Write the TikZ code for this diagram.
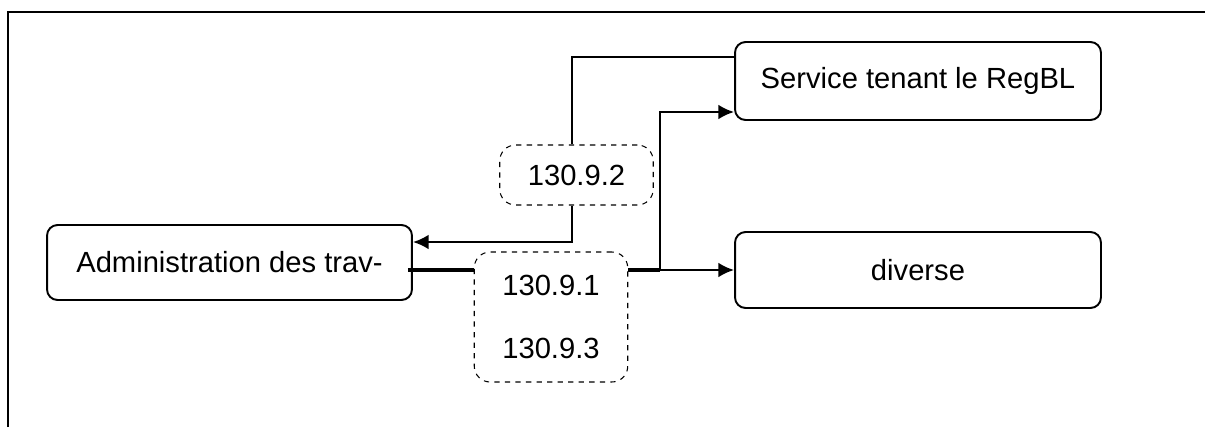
\documentclass[tikz,border=0pt]{standalone}
\usepackage{fontspec}
\setmainfont{Liberation Sans}
\usetikzlibrary{arrows.meta}

\begin{document}
\begin{tikzpicture}[x=0.02cm,y=-0.02cm,>={Latex[length=9pt,width=8.5pt]},
  box/.style={draw,line width=1.1pt,rounded corners=6pt,minimum width=7.32cm,
    font=\fontsize{16.6}{20}\selectfont},
  tag/.style={draw,dashed,line width=0.6pt,rounded corners=9pt,minimum width=3.07cm,
    font=\fontsize{16.6}{20}\selectfont,align=center},
  line/.style={line width=1.4pt},
  thickline/.style={line width=2.6pt}]
\useasboundingbox (0,0) rectangle (1205,427);
\draw[line width=1.2pt] (8,427) -- (8,12) -- (1205,12);
\node[box,minimum width=7.3cm,minimum height=1.5cm] (admin) at (229.5,262.5) {Administration des trav-};
\node[box,minimum height=1.56cm] (serv) at (918,81) {Service tenant le RegBL};
\node[box,minimum height=1.52cm] (div) at (918,270) {diverse};
\node[tag,minimum height=1.2cm] (t2) at (576.5,175) {130.9.2};
\node[tag,minimum height=2.6cm] (t13) at (551,317) {130.9.1\\[0.55cm]130.9.3};
%
\draw[line] ([yshift=0.48cm]serv.west) -| ([xshift=-0.09cm]t2.north);
\draw[line,->] ([xshift=-0.09cm]t2.south) |- ([yshift=0.41cm]admin.east);
\coordinate (a1) at ([yshift=-0.15cm]admin.east);
\draw[thickline] ([xshift=-0.1cm]a1) -- (a1 -| t13.west) (a1 -| t13.east) -- ++(32,0) coordinate (br);
\draw[line,->] (br) -- (br -| div.west);
\draw[line,->] (br) |- ([yshift=-0.62cm]serv.west);
\end{tikzpicture}
\end{document}
